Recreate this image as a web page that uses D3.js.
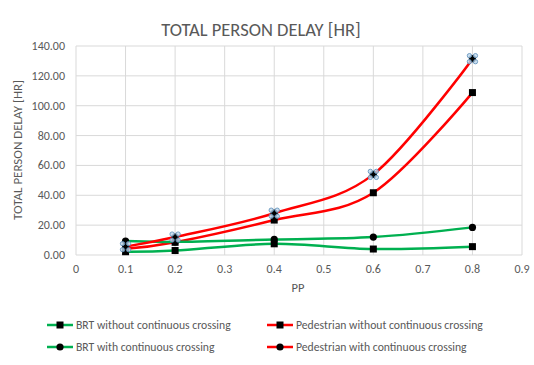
<!DOCTYPE html>
<html>
<head>
<meta charset="utf-8">
<script src="https://cdn.jsdelivr.net/npm/d3@7"></script>
<style>
  body { margin: 0; background: #fff; }
  text { font-family: Calibri, Carlito, "Liberation Sans", "Open Sans", sans-serif; fill: #595959; }
</style>
</head>
<body>
<div id="chart"></div>
<script>
const pp = [0.1, 0.2, 0.4, 0.6, 0.8];
const brtWithout = [2.2, 3.0, 7.5, 4.0, 5.6];
const brtWith = [9.3, 8.8, 10.4, 12.0, 18.5];
const pedWithout = [4.2, 8.5, 23.4, 41.7, 108.8];
const pedWith = [5.6, 12.0, 28.0, 54.0, 131.5];
const xTicks = [0, 0.1, 0.2, 0.3, 0.4, 0.5, 0.6, 0.7, 0.8, 0.9];
const yTicks = [0, 20, 40, 60, 80, 100, 120, 140];

const series = [
  { name: "BRT without continuous crossing", values: brtWithout, color: "#00b050", marker: "square" },
  { name: "Pedestrian without continuous crossing", values: pedWithout, color: "#ff0000", marker: "square" },
  { name: "BRT with continuous crossing", values: brtWith, color: "#00b050", marker: "circle" },
  { name: "Pedestrian with continuous crossing", values: pedWith, color: "#ff0000", marker: "circle", selected: true }
];

const width = 534, height = 365;
const margin = { top: 46, left: 76, bottom: 110, right: 12 };

const svg = d3.select("#chart").append("svg")
    .attr("width", width)
    .attr("height", height);

const x = d3.scaleLinear().domain([0, 0.9]).range([margin.left, 522]);
const y = d3.scaleLinear().domain([0, 140]).range([255, margin.top]);

// gridlines
svg.append("g").selectAll("line.h")
    .data(yTicks).enter().append("line")
    .attr("x1", x(0)).attr("x2", x(0.9))
    .attr("y1", d => y(d)).attr("y2", d => y(d))
    .attr("stroke", "#d9d9d9").attr("stroke-width", 1);

svg.append("g").selectAll("line.v")
    .data(xTicks).enter().append("line")
    .attr("x1", d => x(d)).attr("x2", d => x(d))
    .attr("y1", y(0)).attr("y2", y(140))
    .attr("stroke", "#d9d9d9").attr("stroke-width", 1);

// tick labels
svg.append("g").selectAll("text")
    .data(yTicks).enter().append("text")
    .attr("x", 65).attr("y", d => y(d) + 4)
    .attr("text-anchor", "end")
    .style("font-size", "12px")
    .text(d => d3.format(".2f")(d));

svg.append("g").selectAll("text")
    .data(xTicks).enter().append("text")
    .attr("x", d => x(d)).attr("y", 273)
    .attr("text-anchor", "middle")
    .style("font-size", "12px")
    .text(d => d3.format("~g")(d));

// titles
svg.append("text")
    .attr("x", 261).attr("y", 36)
    .attr("text-anchor", "middle")
    .style("font-size", "18.5px")
    .text("TOTAL PERSON DELAY [HR]");

svg.append("text")
    .attr("transform", "translate(22,150) rotate(-90)")
    .attr("text-anchor", "middle")
    .style("font-size", "13px")
    .text("TOTAL PERSON DELAY [HR]");

svg.append("text")
    .attr("x", 298).attr("y", 292)
    .attr("text-anchor", "middle")
    .style("font-size", "12.5px")
    .text("PP");

// lines
const line = d3.line()
    .x((d, i) => x(pp[i]))
    .y(d => y(d))
    .curve(d3.curveCardinal.tension(0));

function drawMarker(g, type, cx, cy) {
  if (type === "square") {
    g.append("rect")
      .attr("x", cx - 3.5).attr("y", cy - 3.5)
      .attr("width", 7).attr("height", 7)
      .attr("fill", "#000");
  } else {
    g.append("circle")
      .attr("cx", cx).attr("cy", cy).attr("r", 3.6)
      .attr("fill", "#000");
  }
}

const plot = svg.append("g");
series.forEach(s => {
  plot.append("path")
    .attr("d", line(s.values))
    .attr("fill", "none")
    .attr("stroke", s.color)
    .attr("stroke-width", 2.5);
});

series.forEach(s => {
  const g = plot.append("g");
  s.values.forEach((v, i) => {
    drawMarker(g, s.marker, x(pp[i]), y(v));
    if (s.selected) {
      [[-3, -3], [3, -3], [-3, 3], [3, 3]].forEach(o => {
        g.append("circle")
          .attr("cx", x(pp[i]) + o[0]).attr("cy", y(v) + o[1])
          .attr("r", 2.2)
          .attr("fill", "#bdd7ee")
          .attr("fill-opacity", 0.8)
          .attr("stroke", "#5b8db8")
          .attr("stroke-width", 0.8);
      });
      g.append("circle")
        .attr("cx", x(pp[i])).attr("cy", y(v)).attr("r", 2)
        .attr("fill", "#000");
    }
  });
});

// legend
const legendPos = [[47, 325], [267, 325], [47, 347], [267, 347]];
series.forEach((s, i) => {
  const [lx, ly] = legendPos[i];
  const g = svg.append("g");
  g.append("line")
    .attr("x1", lx).attr("x2", lx + 26)
    .attr("y1", ly).attr("y2", ly)
    .attr("stroke", s.color).attr("stroke-width", 2.5);
  drawMarker(g, s.marker, lx + 13, ly);
  g.append("text")
    .attr("x", lx + 29).attr("y", ly + 4)
    .style("font-size", "11.7px")
    .text(s.name);
});
</script>
</body>
</html>
